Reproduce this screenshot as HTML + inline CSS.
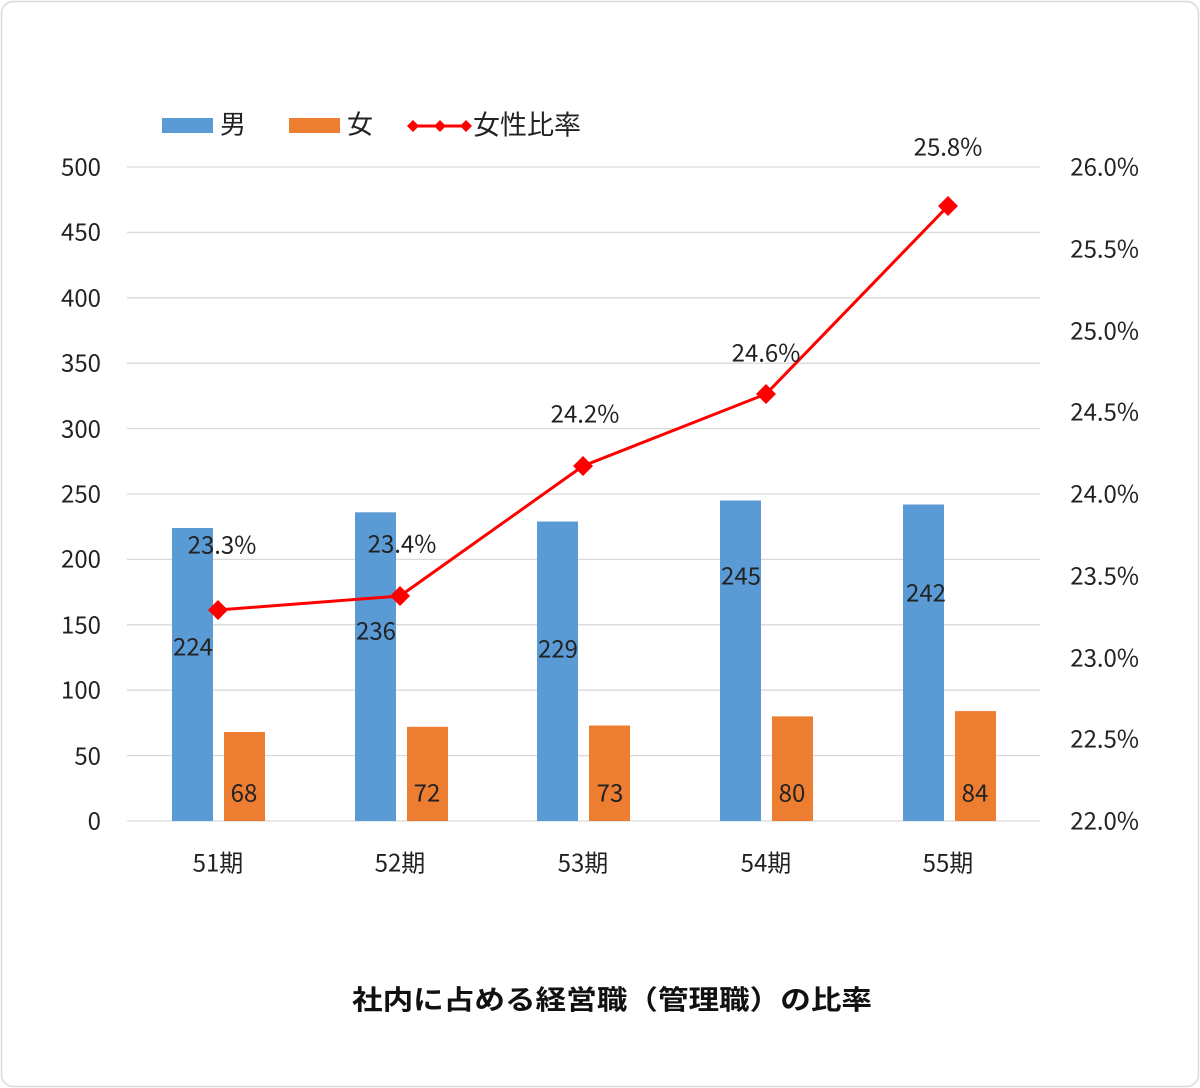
<!DOCTYPE html>
<html><head><meta charset="utf-8"><style>
body{margin:0;background:#fff;}
svg{display:block;font-family:"Noto Sans CJK JP","Liberation Sans",sans-serif;}
</style></head><body>
<svg width="1200" height="1088" viewBox="0 0 1200 1088" xmlns="http://www.w3.org/2000/svg">
<rect x="1.5" y="1.5" width="1197" height="1085" rx="12" fill="#fff" stroke="#d9d9d9" stroke-width="1.5"/>
<g stroke="#d9d9d9" stroke-width="1.3">
<line x1="127" x2="1040" y1="167" y2="167"/><line x1="127" x2="1040" y1="232.4" y2="232.4"/>
<line x1="127" x2="1040" y1="297.8" y2="297.8"/><line x1="127" x2="1040" y1="363.2" y2="363.2"/>
<line x1="127" x2="1040" y1="428.6" y2="428.6"/><line x1="127" x2="1040" y1="494" y2="494"/>
<line x1="127" x2="1040" y1="559.4" y2="559.4"/><line x1="127" x2="1040" y1="624.8" y2="624.8"/>
<line x1="127" x2="1040" y1="690.2" y2="690.2"/><line x1="127" x2="1040" y1="755.6" y2="755.6"/>
<line x1="127" x2="1040" y1="821" y2="821"/>
</g>
<g font-size="24" fill="#222" text-anchor="end" dominant-baseline="central" transform="translate(0,-2)">
<text x="101" y="167">500</text><text x="101" y="232">450</text><text x="101" y="298">400</text>
<text x="101" y="363">350</text><text x="101" y="429">300</text><text x="101" y="494">250</text>
<text x="101" y="559">200</text><text x="101" y="625">150</text><text x="101" y="690">100</text>
<text x="101" y="756">50</text><text x="101" y="821">0</text>
</g>
<g font-size="24" fill="#222" dominant-baseline="central" text-anchor="end" transform="translate(0,-2)">
<text x="1139" y="167">26.0%</text><text x="1139" y="249">25.5%</text><text x="1139" y="331">25.0%</text>
<text x="1139" y="412">24.5%</text><text x="1139" y="494">24.0%</text><text x="1139" y="576">23.5%</text>
<text x="1139" y="658">23.0%</text><text x="1139" y="739">22.5%</text><text x="1139" y="821">22.0%</text>
</g>
<g fill="#5b9bd5">
<rect x="172" y="528" width="41" height="293"/><rect x="355" y="512.3" width="41" height="308.7"/>
<rect x="537" y="521.5" width="41" height="299.5"/><rect x="720" y="500.5" width="41" height="320.5"/>
<rect x="903" y="504.5" width="41" height="316.5"/>
</g>
<g fill="#ed7d31">
<rect x="224" y="732" width="41" height="89"/><rect x="407" y="726.8" width="41" height="94.2"/>
<rect x="589" y="725.5" width="41" height="95.5"/><rect x="772" y="716.4" width="41" height="104.6"/>
<rect x="955" y="711.1" width="41" height="109.9"/>
</g>
<polyline points="218,610 400,596 583,466 766,394 948,206" fill="none" stroke="#ff0000" stroke-width="3"/>
<g fill="#ff0000">
<path d="M218,600 l10,10 l-10,10 l-10,-10z"/><path d="M400,586 l10,10 l-10,10 l-10,-10z"/>
<path d="M583,456 l10,10 l-10,10 l-10,-10z"/><path d="M766,384 l10,10 l-10,10 l-10,-10z"/>
<path d="M948,196 l10,10 l-10,10 l-10,-10z"/>
</g>
<g font-size="24" fill="#222" text-anchor="middle" dominant-baseline="central" transform="translate(0,-2)">
<text x="222" y="545">23.3%</text><text x="402" y="544">23.4%</text><text x="585" y="414">24.2%</text>
<text x="766" y="353">24.6%</text><text x="948" y="147">25.8%</text>
<text x="193" y="647">224</text><text x="376" y="631">236</text><text x="558" y="649">229</text>
<text x="741" y="576">245</text><text x="926" y="593">242</text>
<text x="244" y="793">68</text><text x="427" y="793">72</text><text x="610" y="793">73</text>
<text x="792" y="793">80</text><text x="975" y="793">84</text>
<text x="218" y="863">51期</text><text x="400" y="863">52期</text><text x="583" y="863">53期</text>
<text x="766" y="863">54期</text><text x="948" y="863">55期</text>
</g>
<rect x="162" y="118" width="51" height="15" fill="#5b9bd5"/>
<text x="220" y="123" font-size="26" fill="#222" dominant-baseline="central">男</text>
<rect x="289" y="118" width="51" height="15" fill="#ed7d31"/>
<text x="347" y="123" font-size="26" fill="#222" dominant-baseline="central">女</text>
<line x1="413" x2="466" y1="126" y2="126" stroke="#ff0000" stroke-width="3"/>
<g fill="#ff0000"><path d="M413,120 l6,6 l-6,6 l-6,-6z"/><path d="M440,120 l6,6 l-6,6 l-6,-6z"/><path d="M466,120 l6,6 l-6,6 l-6,-6z"/></g>
<text x="473" y="123" font-size="27" fill="#222" dominant-baseline="central">女性比率</text>
<text x="612" y="998" font-size="27" font-weight="bold" fill="#111" text-anchor="middle" dominant-baseline="central" textLength="520" lengthAdjust="spacingAndGlyphs">社内に占める経営職（管理職）の比率</text>
</svg>
</body></html>
